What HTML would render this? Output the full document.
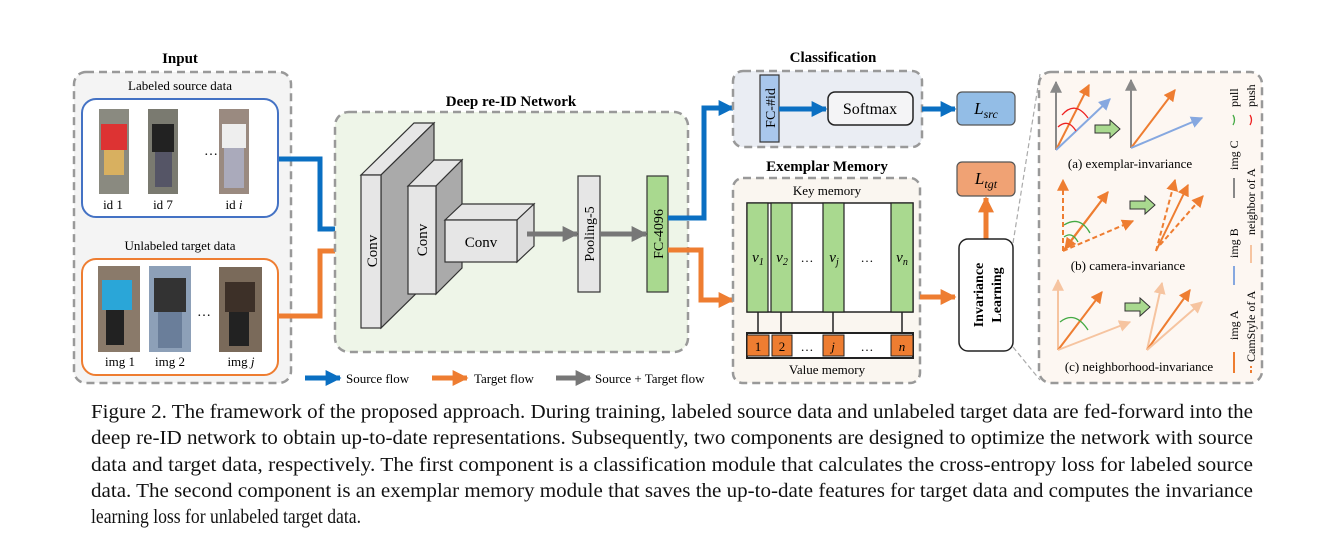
<!DOCTYPE html>
<html><head><meta charset="utf-8"><style>
html,body{margin:0;padding:0;background:#fff;}
svg{display:block;font-family:"Liberation Serif",serif;}
</style></head><body>
<svg width="1343" height="547" viewBox="0 0 1343 547" xmlns="http://www.w3.org/2000/svg">
<defs>
<marker id="ab" viewBox="0 0 10 10" refX="9" refY="5" markerWidth="3.2" markerHeight="3.2" orient="auto"><path d="M0,0L10,5L0,10z" fill="#0a6fc2"/></marker>
<marker id="ao" viewBox="0 0 10 10" refX="9" refY="5" markerWidth="3.2" markerHeight="3.2" orient="auto"><path d="M0,0L10,5L0,10z" fill="#ee7d31"/></marker>
<marker id="ag" viewBox="0 0 10 10" refX="9" refY="5" markerWidth="3.2" markerHeight="3.2" orient="auto"><path d="M0,0L10,5L0,10z" fill="#777"/></marker>
<marker id="so" viewBox="0 0 10 10" refX="9" refY="5" markerWidth="6" markerHeight="6" orient="auto"><path d="M0,0L10,5L0,10z" fill="#ee7d31"/></marker>
<marker id="sl" viewBox="0 0 10 10" refX="9" refY="5" markerWidth="6" markerHeight="6" orient="auto"><path d="M0,0L10,5L0,10z" fill="#f6c4a0"/></marker>
<marker id="sb" viewBox="0 0 10 10" refX="9" refY="5" markerWidth="6" markerHeight="6" orient="auto"><path d="M0,0L10,5L0,10z" fill="#86a8e0"/></marker>
<marker id="sg" viewBox="0 0 10 10" refX="9" refY="5" markerWidth="6" markerHeight="6" orient="auto"><path d="M0,0L10,5L0,10z" fill="#888"/></marker>
</defs>

<!-- Input -->
<text x="180" y="63" font-size="15" font-weight="bold" text-anchor="middle">Input</text>
<rect x="74" y="72" width="217" height="311" rx="12" fill="#f4f4f4" stroke="#999" stroke-width="2.5" stroke-dasharray="8,5"/>
<text x="180" y="90" font-size="13" text-anchor="middle">Labeled source data</text>
<rect x="82" y="99" width="196" height="118" rx="14" fill="#fff" stroke="#4472c4" stroke-width="2"/>
<rect x="99" y="109" width="30" height="85" fill="#8a8a80"/><rect x="101" y="124" width="26" height="26" fill="#d33"/><rect x="104" y="150" width="20" height="25" fill="#d8b060"/>
<rect x="148" y="109" width="30" height="85" fill="#7a7a70"/><rect x="152" y="124" width="22" height="28" fill="#222"/><rect x="155" y="152" width="17" height="35" fill="#556"/>
<rect x="219" y="109" width="30" height="85" fill="#9a8a80"/><rect x="222" y="124" width="24" height="24" fill="#eee"/><rect x="224" y="148" width="20" height="40" fill="#aab"/>
<text x="204" y="155" font-size="14">…</text>
<text x="113" y="209" font-size="13" text-anchor="middle">id 1</text>
<text x="163" y="209" font-size="13" text-anchor="middle">id 7</text>
<text x="234" y="209" font-size="13" text-anchor="middle">id <tspan font-style="italic">i</tspan></text>
<text x="180" y="250" font-size="13" text-anchor="middle">Unlabeled target data</text>
<rect x="82" y="259" width="196" height="116" rx="14" fill="#fff" stroke="#ee7d31" stroke-width="2"/>
<rect x="98" y="266" width="42" height="86" fill="#8a7a6a"/><rect x="102" y="280" width="30" height="30" fill="#2aa6d8"/><rect x="106" y="310" width="18" height="35" fill="#222"/>
<rect x="149" y="266" width="42" height="86" fill="#8da0b8"/><rect x="154" y="278" width="32" height="34" fill="#333"/><rect x="158" y="312" width="24" height="36" fill="#6a7e9a"/>
<rect x="219" y="267" width="43" height="85" fill="#7a6a5a"/><rect x="225" y="282" width="30" height="30" fill="#3d3028"/><rect x="229" y="312" width="20" height="34" fill="#222"/>
<text x="197" y="316" font-size="14">…</text>
<text x="120" y="366" font-size="13" text-anchor="middle">img 1</text>
<text x="170" y="366" font-size="13" text-anchor="middle">img 2</text>
<text x="241" y="366" font-size="13" text-anchor="middle">img <tspan font-style="italic">j</tspan></text>

<!-- input arrows -->
<polyline points="279,159 320,159 320,229 350,229" fill="none" stroke="#0a6fc2" stroke-width="5" marker-end="url(#ab)"/>
<polyline points="279,316 320,316 320,251 350,251" fill="none" stroke="#ee7d31" stroke-width="5" marker-end="url(#ao)"/>

<!-- Deep re-ID -->
<text x="511" y="106" font-size="15" font-weight="bold" text-anchor="middle">Deep re-ID Network</text>
<rect x="335" y="112" width="353" height="240" rx="14" fill="#eef5e8" stroke="#999" stroke-width="2.5" stroke-dasharray="8,5"/>
<polygon points="361,175 414,123 434,123 381,175" fill="#e6e6e6" stroke="#333" stroke-width="1.2"/>
<polygon points="381,175 434,123 434,276 381,328" fill="#aaa" stroke="#333" stroke-width="1.2"/>
<rect x="361" y="175" width="20" height="153" fill="#e6e6e6" stroke="#333" stroke-width="1.2"/>
<text transform="translate(377,251) rotate(-90)" font-size="15" text-anchor="middle">Conv</text>
<polygon points="408,186 434,160 462,160 436,186" fill="#e6e6e6" stroke="#333" stroke-width="1.2"/>
<polygon points="436,186 462,160 462,268 436,294" fill="#aaa" stroke="#333" stroke-width="1.2"/>
<rect x="408" y="186" width="28" height="108" fill="#e6e6e6" stroke="#333" stroke-width="1.2"/>
<text transform="translate(427,240) rotate(-90)" font-size="15" text-anchor="middle">Conv</text>
<polygon points="445,220 462,204 534,204 517,220" fill="#e6e6e6" stroke="#333" stroke-width="1.2"/>
<polygon points="517,220 534,204 534,246 517,262" fill="#ddd" stroke="#333" stroke-width="1.2"/>
<rect x="445" y="220" width="72" height="42" fill="#e6e6e6" stroke="#333" stroke-width="1.2"/>
<text x="481" y="247" font-size="15" text-anchor="middle">Conv</text>
<line x1="527" y1="234" x2="577" y2="234" stroke="#777" stroke-width="5" marker-end="url(#ag)"/>
<rect x="578" y="176" width="22" height="116" fill="#e6e6e6" stroke="#333" stroke-width="1.2"/>
<text transform="translate(594,234) rotate(-90)" font-size="14" text-anchor="middle">Pooling-5</text>
<line x1="600" y1="234" x2="646" y2="234" stroke="#777" stroke-width="5" marker-end="url(#ag)"/>
<rect x="647" y="176" width="21" height="116" fill="#a9d98f" stroke="#333" stroke-width="1.2"/>
<text transform="translate(663,234) rotate(-90)" font-size="14" text-anchor="middle">FC-4096</text>
<polyline points="668,218 704,218 704,108 733,108" fill="none" stroke="#0a6fc2" stroke-width="5" marker-end="url(#ab)"/>
<polyline points="668,250 701,250 701,300 733,300" fill="none" stroke="#ee7d31" stroke-width="5" marker-end="url(#ao)"/>

<!-- legend -->
<line x1="305" y1="378" x2="340" y2="378" stroke="#0a6fc2" stroke-width="5" marker-end="url(#ab)"/>
<text x="346" y="383" font-size="13">Source flow</text>
<line x1="432" y1="378" x2="467" y2="378" stroke="#ee7d31" stroke-width="5" marker-end="url(#ao)"/>
<text x="474" y="383" font-size="13">Target flow</text>
<line x1="556" y1="378" x2="590" y2="378" stroke="#777" stroke-width="5" marker-end="url(#ag)"/>
<text x="595" y="383" font-size="13">Source + Target flow</text>

<!-- Classification -->
<text x="833" y="62" font-size="15" font-weight="bold" text-anchor="middle">Classification</text>
<rect x="733" y="71" width="189" height="76" rx="10" fill="#eaedf3" stroke="#999" stroke-width="2.5" stroke-dasharray="8,5"/>
<rect x="760" y="75" width="19" height="67" fill="#a9c7ec" stroke="#333" stroke-width="1.2"/>
<text transform="translate(775,108) rotate(-90)" font-size="14" text-anchor="middle">FC-#id</text>
<line x1="779" y1="109" x2="826" y2="109" stroke="#0a6fc2" stroke-width="5" marker-end="url(#ab)"/>
<rect x="828" y="92" width="85" height="33" rx="7" fill="#f4f4f6" stroke="#222" stroke-width="1.5"/>
<text x="870" y="114" font-size="16" text-anchor="middle">Softmax</text>
<line x1="922" y1="109" x2="955" y2="109" stroke="#0a6fc2" stroke-width="5" marker-end="url(#ab)"/>
<rect x="957" y="92" width="58" height="33" rx="5" fill="#93bde6" stroke="#555" stroke-width="1.2"/>
<text x="986" y="114" font-size="17" font-style="italic" text-anchor="middle">L<tspan font-size="12" dy="4">src</tspan></text>

<!-- Exemplar Memory -->
<text x="827" y="171" font-size="15" font-weight="bold" text-anchor="middle">Exemplar Memory</text>
<rect x="733" y="178" width="187" height="205" rx="10" fill="#faf6f0" stroke="#999" stroke-width="2.5" stroke-dasharray="8,5"/>
<text x="827" y="195" font-size="13" text-anchor="middle">Key memory</text>
<rect x="747" y="203" width="166" height="109" fill="#fff" stroke="#222" stroke-width="1.5"/>
<rect x="747" y="203" width="21" height="109" fill="#a9d98f" stroke="#222" stroke-width="1.2"/>
<rect x="771" y="203" width="21" height="109" fill="#a9d98f" stroke="#222" stroke-width="1.2"/>
<rect x="823" y="203" width="21" height="109" fill="#a9d98f" stroke="#222" stroke-width="1.2"/>
<rect x="891" y="203" width="22" height="109" fill="#a9d98f" stroke="#222" stroke-width="1.2"/>
<g font-size="15" font-style="italic" text-anchor="middle">
<text x="758" y="262">v<tspan font-size="10" dy="3">1</tspan></text>
<text x="782" y="262">v<tspan font-size="10" dy="3">2</tspan></text>
<text x="834" y="262">v<tspan font-size="10" dy="3">j</tspan></text>
<text x="902" y="262">v<tspan font-size="10" dy="3">n</tspan></text>
</g>
<text x="807" y="262" font-size="13" text-anchor="middle">…</text>
<text x="867" y="262" font-size="13" text-anchor="middle">…</text>
<g stroke="#222" stroke-width="1.5"><line x1="758" y1="312" x2="758" y2="333"/><line x1="781" y1="312" x2="781" y2="333"/><line x1="833" y1="312" x2="833" y2="333"/><line x1="902" y1="312" x2="902" y2="333"/></g>
<rect x="747" y="333" width="166" height="25" fill="#fff" stroke="#222" stroke-width="2"/>
<rect x="747" y="335" width="22" height="21" fill="#ee7d31" stroke="#222"/>
<rect x="772" y="335" width="20" height="21" fill="#ee7d31" stroke="#222"/>
<rect x="823" y="335" width="21" height="21" fill="#ee7d31" stroke="#222"/>
<rect x="891" y="335" width="22" height="21" fill="#ee7d31" stroke="#222"/>
<g font-size="13" text-anchor="middle"><text x="758" y="351">1</text><text x="782" y="351">2</text><text x="807" y="351">…</text><text x="833" y="351" font-style="italic">j</text><text x="867" y="351">…</text><text x="902" y="351" font-style="italic">n</text></g>
<text x="827" y="374" font-size="13" text-anchor="middle">Value memory</text>
<line x1="920" y1="297" x2="955" y2="297" stroke="#ee7d31" stroke-width="5" marker-end="url(#ao)"/>
<rect x="957" y="162" width="58" height="34" rx="5" fill="#f0a274" stroke="#555" stroke-width="1.2"/>
<text x="986" y="184" font-size="17" font-style="italic" text-anchor="middle">L<tspan font-size="12" dy="4">tgt</tspan></text>
<line x1="986" y1="239" x2="986" y2="198" stroke="#ee7d31" stroke-width="5" marker-end="url(#ao)"/>
<rect x="959" y="239" width="54" height="112" rx="9" fill="#fff" stroke="#222" stroke-width="1.5"/>
<text transform="translate(983,295) rotate(-90)" font-size="14" font-weight="bold" text-anchor="middle">Invariance</text>
<text transform="translate(1001,295) rotate(-90)" font-size="14" font-weight="bold" text-anchor="middle">Learning</text>
<line x1="1013" y1="243" x2="1040" y2="74" stroke="#aaa" stroke-width="1.2" stroke-dasharray="5,3"/>
<line x1="1013" y1="347" x2="1040" y2="380" stroke="#aaa" stroke-width="1.2" stroke-dasharray="5,3"/>

<!-- Right panel -->
<rect x="1039" y="72" width="223" height="311" rx="12" fill="#fdf7f2" stroke="#999" stroke-width="2.5" stroke-dasharray="8,5"/>
<g stroke-width="2" fill="none">
<line x1="1056" y1="150" x2="1056" y2="82" stroke="#888" marker-end="url(#sg)"/>
<line x1="1056" y1="150" x2="1089" y2="85" stroke="#ee7d31" marker-end="url(#so)"/>
<line x1="1056" y1="150" x2="1110" y2="99" stroke="#86a8e0" marker-end="url(#sb)"/>
<path d="M1062,115 Q1075,100 1088,118" stroke="#e22" stroke-width="1.3"/>
<path d="M1058,127 Q1068,118 1076,131" stroke="#e22" stroke-width="1.3"/>
<line x1="1131" y1="148" x2="1131" y2="80" stroke="#888" marker-end="url(#sg)"/>
<line x1="1131" y1="148" x2="1175" y2="90" stroke="#ee7d31" marker-end="url(#so)"/>
<line x1="1131" y1="148" x2="1202" y2="118" stroke="#86a8e0" marker-end="url(#sb)"/>
<line x1="1063" y1="251" x2="1063" y2="180" stroke="#ee7d31" stroke-dasharray="5,3" marker-end="url(#so)"/>
<line x1="1063" y1="251" x2="1108" y2="192" stroke="#ee7d31" marker-end="url(#so)"/>
<line x1="1063" y1="251" x2="1133" y2="221" stroke="#ee7d31" stroke-dasharray="5,3" marker-end="url(#so)"/>
<line x1="1108" y1="192" x2="1065" y2="249" stroke="#ee7d31" marker-end="url(#so)"/>
<path d="M1064,225 Q1080,215 1090,233" stroke="#4a4" stroke-width="1.3"/>
<path d="M1064,237 Q1072,231 1078,242" stroke="#4a4" stroke-width="1.3"/>
<line x1="1156" y1="251" x2="1175" y2="180" stroke="#ee7d31" stroke-dasharray="5,3" marker-end="url(#so)"/>
<line x1="1156" y1="251" x2="1188" y2="185" stroke="#ee7d31" marker-end="url(#so)"/>
<line x1="1160" y1="245" x2="1203" y2="196" stroke="#ee7d31" stroke-dasharray="5,3" marker-end="url(#so)"/>
<line x1="1058" y1="350" x2="1058" y2="280" stroke="#f6c4a0" marker-end="url(#sl)"/>
<line x1="1058" y1="350" x2="1102" y2="292" stroke="#ee7d31" marker-end="url(#so)"/>
<line x1="1058" y1="350" x2="1130" y2="322" stroke="#f6c4a0" marker-end="url(#sl)"/>
<path d="M1060,322 Q1075,310 1088,330" stroke="#4a4" stroke-width="1.3"/>
<line x1="1147" y1="350" x2="1162" y2="283" stroke="#f6c4a0" marker-end="url(#sl)"/>
<line x1="1147" y1="350" x2="1190" y2="290" stroke="#ee7d31" marker-end="url(#so)"/>
<line x1="1147" y1="350" x2="1202" y2="302" stroke="#f6c4a0" marker-end="url(#sl)"/>
</g>
<g fill="#a9d98f" stroke="#333" stroke-width="1">
<polygon points="1095,125 1110,125 1110,120 1120,129 1110,138 1110,133 1095,133"/>
<polygon points="1130,201 1145,201 1145,196 1155,205 1145,214 1145,209 1130,209"/>
<polygon points="1125,303 1140,303 1140,298 1150,307 1140,316 1140,311 1125,311"/>
</g>
<g font-size="13" text-anchor="middle">
<text x="1130" y="168">(a) exemplar-invariance</text>
<text x="1128" y="270">(b) camera-invariance</text>
<text x="1139" y="371">(c) neighborhood-invariance</text>
</g>
<g font-size="12">
<text transform="translate(1238,340) rotate(-90)">img A</text>
<text transform="translate(1238,258) rotate(-90)">img B</text>
<text transform="translate(1238,170) rotate(-90)">img C</text>
<text transform="translate(1238,107) rotate(-90)">pull</text>
<text transform="translate(1255,362) rotate(-90)">CamStyle of A</text>
<text transform="translate(1255,235) rotate(-90)">neighbor of A</text>
<text transform="translate(1255,107) rotate(-90)">push</text>
</g>
<g stroke-width="2">
<line x1="1234" y1="373" x2="1234" y2="352" stroke="#ee7d31"/>
<line x1="1251" y1="373" x2="1251" y2="366" stroke="#ee7d31" stroke-dasharray="3,2"/>
<line x1="1234" y1="285" x2="1234" y2="266" stroke="#86a8e0"/>
<line x1="1251" y1="263" x2="1251" y2="245" stroke="#f6c4a0"/>
<line x1="1234" y1="198" x2="1234" y2="178" stroke="#888"/>
<path d="M1233,125 q3,-5 0,-10" stroke="#4a4" fill="none" stroke-width="1.3"/>
<path d="M1250,125 q3,-5 0,-10" stroke="#e22" fill="none" stroke-width="1.3"/>
</g>

<!-- caption -->
<g font-size="19.5" fill="#111">
<text x="91" y="418" textLength="1162" lengthAdjust="spacingAndGlyphs">Figure 2. The framework of the proposed approach. During training, labeled source data and unlabeled target data are fed-forward into the</text>
<text x="91" y="444" textLength="1162" lengthAdjust="spacingAndGlyphs">deep re-ID network to obtain up-to-date representations. Subsequently, two components are designed to optimize the network with source</text>
<text x="91" y="471" textLength="1162" lengthAdjust="spacingAndGlyphs">data and target data, respectively.  The first component is a classification module that calculates the cross-entropy loss for labeled source</text>
<text x="91" y="497" textLength="1162" lengthAdjust="spacingAndGlyphs">data. The second component is an exemplar memory module that saves the up-to-date features for target data and computes the invariance</text>
<text x="91" y="523" textLength="270" lengthAdjust="spacingAndGlyphs">learning loss for unlabeled target data.</text>
</g>
</svg>
</body></html>
